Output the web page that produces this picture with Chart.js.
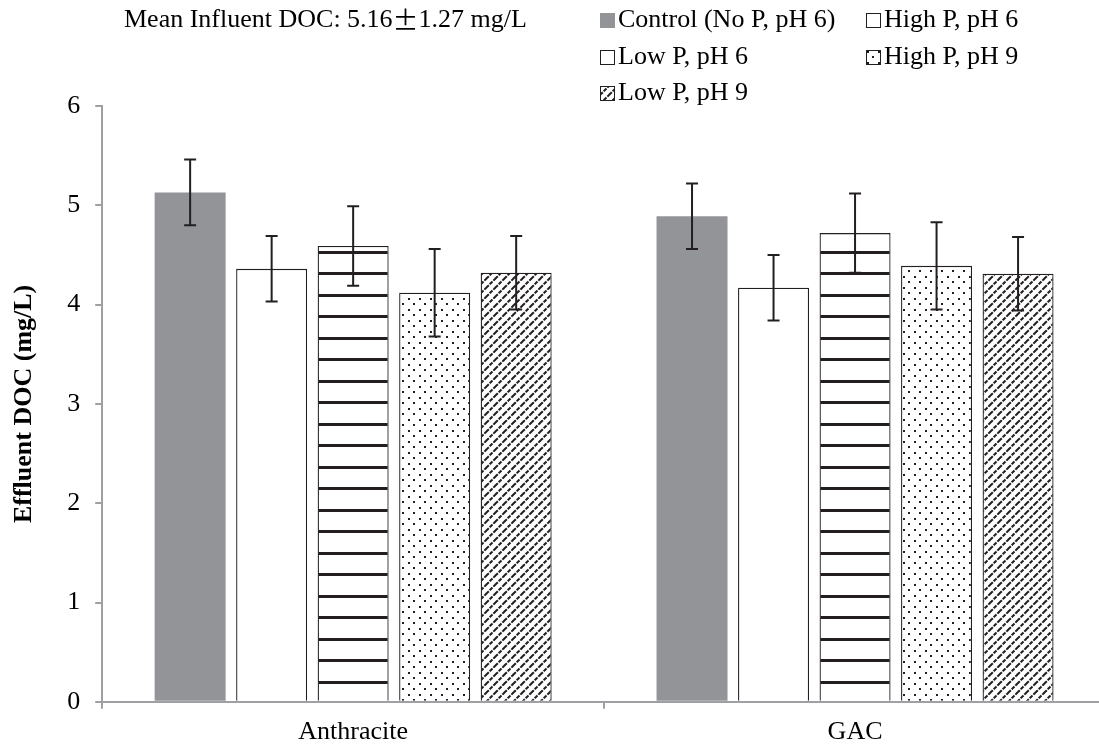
<!DOCTYPE html>
<html>
<head>
<meta charset="utf-8">
<script src="https://cdn.jsdelivr.net/npm/chart.js@4.4.1/dist/chart.umd.min.js"></script>
<style>
  html, body { margin: 0; padding: 0; background: #fff; overflow: hidden; }
  #wrap { width: 1106px; height: 746px; }
</style>
</head>
<body>
<div id="wrap"><canvas id="doc"></canvas></div>
<script>
// filter media on the x axis
const media = ['Anthracite', 'GAC'];

// mean effluent DOC (mg/L) per condition, one value per medium
const seriesNames = ['Control (No P, pH 6)', 'High P, pH 6', 'Low P, pH 6', 'High P, pH 9', 'Low P, pH 9'];
const control = [5.13, 4.89];
const highP6 = [4.36, 4.17];
const lowP6 = [4.59, 4.72];
const highP9 = [4.12, 4.39];
const lowP9 = [4.32, 4.31];

// standard deviations for the error bars
const controlErr = [0.33, 0.33];
const highP6Err = [0.33, 0.33];
const lowP6Err = [0.40, 0.40];
const highP9Err = [0.44, 0.44];
const lowP9Err = [0.37, 0.37];

const yTicks = [0, 1, 2, 3, 4, 5, 6];
const influentNote = ['Mean Influent DOC: 5.16', '\u00b1', '1.27 mg/L'];

const INK = '#231f20';
const AXIS = '#9fa0a3';
const FONT = '"Liberation Serif", "Times New Roman", serif';
const SIZE = 26;

// fill patterns
function tile(w, h, draw) {
  const c = document.createElement('canvas');
  c.width = w; c.height = h;
  const g = c.getContext('2d');
  g.fillStyle = '#fff';
  g.fillRect(0, 0, w, h);
  g.fillStyle = INK;
  g.strokeStyle = INK;
  draw(g);
  return g.createPattern(c, 'repeat');
}

const horizontalLines = tile(8, 43, g => {
  g.fillRect(0, 14, 8, 3);
  g.fillRect(0, 36, 8, 3);
});

const dots = tile(11, 11, g => {
  g.fillRect(1, 1, 2, 2);
  g.fillRect(6, 6, 2, 2);
});

const diagonal = tile(9, 9, g => {
  g.lineWidth = 2;
  g.setLineDash([4, 1.2]);
  g.beginPath();
  g.moveTo(0, 9); g.lineTo(9, 0);
  g.moveTo(-4.5, 4.5); g.lineTo(4.5, -4.5);
  g.moveTo(4.5, 13.5); g.lineTo(13.5, 4.5);
  g.stroke();
});

const fills = ['#929497', '#ffffff', horizontalLines, dots, diagonal];
const values = [control, highP6, lowP6, highP9, lowP9];
const errors = [controlErr, highP6Err, lowP6Err, highP9Err, lowP9Err];

const datasets = seriesNames.map((name, i) => ({
  label: name,
  data: values[i],
  errors: errors[i],
  backgroundColor: fills[i],
  borderColor: i === 0 ? '#929497' : INK,
  borderWidth: i === 0 ? 0 : 1.3,
  categoryPercentage: 0.812,
  barPercentage: 0.871
}));

const errorBars = {
  id: 'errorBars',
  afterDatasetsDraw(chart) {
    const { ctx } = chart;
    const y = chart.scales.y;
    ctx.save();
    ctx.strokeStyle = INK;
    ctx.lineWidth = 2;
    chart.data.datasets.forEach((ds, i) => {
      chart.getDatasetMeta(i).data.forEach((bar, j) => {
        const v = ds.data[j];
        const e = ds.errors[j];
        const top = y.getPixelForValue(v + e);
        const bot = y.getPixelForValue(v - e);
        const x = bar.x;
        ctx.beginPath();
        ctx.moveTo(x, top); ctx.lineTo(x, bot);
        ctx.moveTo(x - 6, top); ctx.lineTo(x + 6, top);
        ctx.moveTo(x - 6, bot); ctx.lineTo(x + 6, bot);
        ctx.stroke();
      });
    });
    ctx.restore();
  }
};

// note and two-column legend above the plot
const header = {
  id: 'header',
  afterDraw(chart) {
    const { ctx } = chart;
    ctx.save();
    ctx.fillStyle = '#000';
    ctx.textBaseline = 'middle';
    ctx.textAlign = 'left';

    // the plus-minus sign is set full width
    let nx = 124;
    influentNote.forEach((part, k) => {
      ctx.font = k === 1 ? SIZE + 'px "Noto Sans CJK JP"' : SIZE + 'px ' + FONT;
      ctx.fillText(part, nx, 20);
      nx += ctx.measureText(part).width;
    });

    ctx.font = SIZE + 'px ' + FONT;
    const colX = [600, 866];
    const rowY = [20, 57, 93];
    chart.data.datasets.forEach((ds, i) => {
      const x = colX[i % 2];
      const yy = rowY[Math.floor(i / 2)];
      ctx.save();
      ctx.translate(x, yy - 7);
      ctx.fillStyle = ds.backgroundColor;
      ctx.fillRect(0, 0, 15, 15);
      if (i > 0) {
        ctx.strokeStyle = INK;
        ctx.lineWidth = 1;
        ctx.strokeRect(0.5, 0.5, 14, 14);
      }
      ctx.restore();
      ctx.fillStyle = '#000';
      ctx.fillText(ds.label, x + 18, yy);
    });
    ctx.restore();
  }
};

new Chart(document.getElementById('doc'), {
  type: 'bar',
  data: { labels: media, datasets },
  options: {
    responsive: true,
    maintainAspectRatio: false,
    animation: false,
    layout: { padding: { top: 106, left: 5, right: 0, bottom: -10 } },
    plugins: {
      legend: { display: false },
      tooltip: { enabled: false }
    },
    scales: {
      x: {
        grid: { drawOnChartArea: false, tickLength: 7, color: AXIS, lineWidth: 2 },
        border: { color: AXIS, width: 2 },
        ticks: { color: '#000', font: { family: FONT, size: SIZE }, padding: 8 }
      },
      y: {
        min: 0,
        max: 6,
        afterBuildTicks: axis => { axis.ticks = yTicks.map(v => ({ value: v })); },
        grid: { drawOnChartArea: false, tickLength: 7, color: AXIS, lineWidth: 2 },
        border: { color: AXIS, width: 2 },
        ticks: { color: '#000', font: { family: FONT, size: SIZE }, padding: 15 },
        title: {
          display: true,
          text: 'Effluent DOC (mg/L)',
          color: '#000',
          font: { family: FONT, size: SIZE, weight: 'bold' },
          padding: { top: 4, bottom: 12 }
        }
      }
    }
  },
  plugins: [errorBars, header]
});
</script>
</body>
</html>
